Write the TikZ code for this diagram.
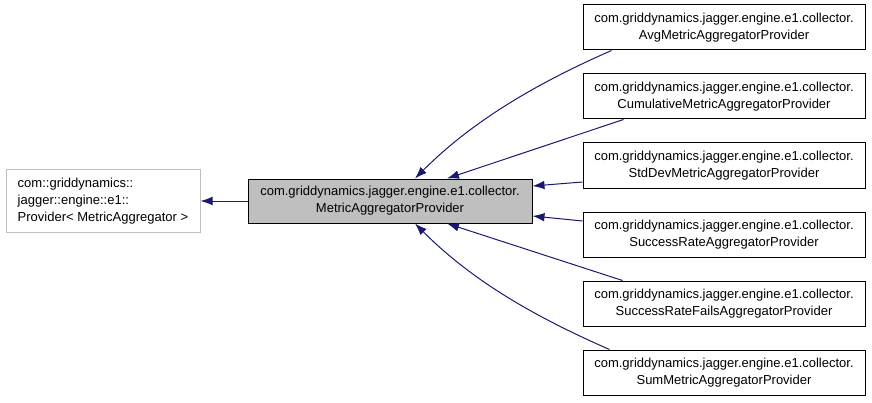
\documentclass[tikz,border=0pt]{standalone}
\usepackage{fontspec}
\setmainfont{Liberation Sans}
\usetikzlibrary{arrows.meta,calc}
\definecolor{edgeblue}{RGB}{25,25,112}
\definecolor{boxgray}{RGB}{191,191,191}

\begin{document}
\begin{tikzpicture}[
	x=0.75pt, y=-0.75pt,
	box/.style 2 args={
		rectangle,
		draw=#1,
		fill=#2,
		line width=0.75pt,
		align=center,
		inner sep=0pt,
		font=\fontsize{9.75}{12.75}\selectfont},
	inherit/.style={draw=edgeblue, line width=0.75pt, -{Latex[length=9pt,width=6.5pt]}}]
	\useasboundingbox (0,0) rectangle (872,403);
	% draw base class and collector class
	\node[box={boxgray}{white}, align=left, minimum width=145.5pt, minimum height=46.5pt] (base) at (103,201) {com::griddynamics::\\jagger::engine::e1::\\Provider< MetricAggregator >};
	\node[box={black}{boxgray}, minimum width=213pt, minimum height=33pt] (main) at (390,201) {com.griddynamics.jagger.engine.e1.collector.\\MetricAggregatorProvider};
	\draw[inherit] (main.west) -- (base.east);
	% draw derived providers
	\foreach \cls [count=\i from 1] in {AvgMetric, CumulativeMetric, StdDevMetric, SuccessRate, SuccessRateFails, SumMetric} {
		\node[box={black}{white}, minimum width=211.5pt, minimum height=33.75pt] (d\i) at (724, 27.5+69*\i-69) {com.griddynamics.jagger.engine.e1.collector.\\\cls AggregatorProvider};
	}
	% draw inheritance links, outer ones curved
	\draw[inherit] ($(d1.south west)+(29,0)$) .. controls +(-80,35) and +(55,-55) .. ($(main.north)+(25,0)$);
	\draw[inherit] ($(d2.south west)+(41,0)$) -- ($(main.north)+(57,0)$);
	\draw[inherit] ($(d3.west)+(0,16.5)$) -- ($(main.east)+(0,-15)$);
	\draw[inherit] ($(d4.west)+(0,-13.5)$) -- ($(main.east)+(0,15)$);
	\draw[inherit] ($(d5.north west)+(40,0)$) -- ($(main.south)+(57,0)$);
	\draw[inherit] ($(d6.north west)+(27,0)$) .. controls +(-80,-35) and +(55,55) .. ($(main.south)+(25,0)$);
\end{tikzpicture}
\end{document}
